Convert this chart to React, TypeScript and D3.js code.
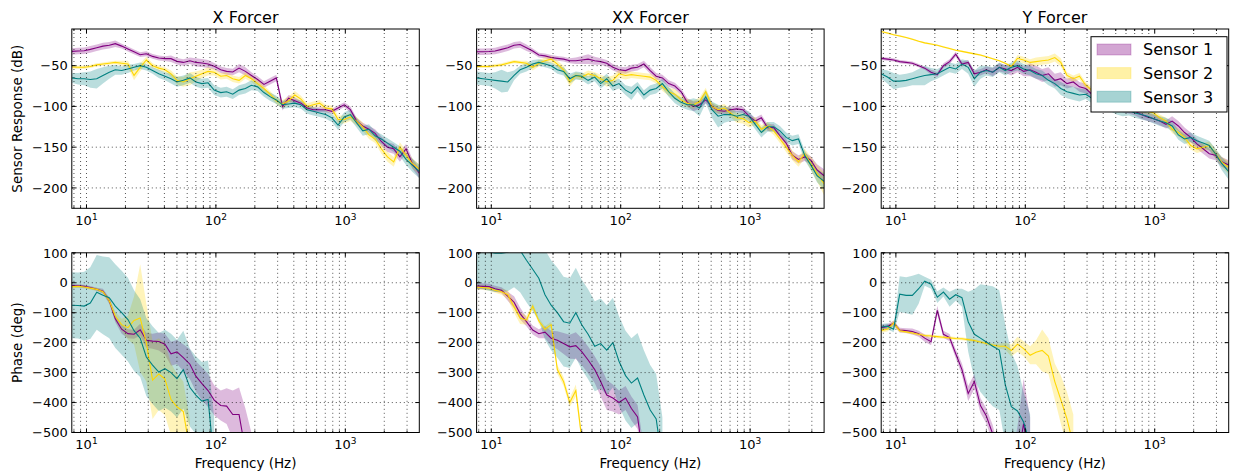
import React from "react";
import * as d3 from "d3";

// Shared frequency grid (Hz) for every response curve
const FREQ = [
  7.7, 8.6, 9.6, 10.7, 12, 13.4, 15, 16.7, 18.7, 20.9, 23.3, 26, 29, 32.4, 36.2, 40.4, 45, 50, 56, 63,
  70, 78, 87, 97, 109, 121, 135, 151, 169, 188, 210, 235, 262, 293, 327, 365, 407, 454, 507, 566,
  632, 705, 787, 879, 981, 1095, 1222, 1364, 1523, 1700, 1898, 2118, 2365, 2640, 2947, 3290, 3730,
];

const SENSORS = ["Sensor 1", "Sensor 2", "Sensor 3"];
const SENSOR_COLORS = ["#800080", "#ffd700", "#008080"];
const FORCERS = ["X Forcer", "XX Forcer", "Y Forcer"];
const MAG_TICKS = [-50, -100, -150, -200];
const PHASE_TICKS = [100, 0, -100, -200, -300, -400, -500];
const MAG_DOMAIN: [number, number] = [-225, -5];
const PHASE_DOMAIN: [number, number] = [-500, 100];
const FREQ_DOMAIN: [number, number] = [7.7, 3730];
const FREQ_MAJOR = [10, 100, 1000];

// ---- Magnitude (dB): mean and spread per sensor ----
const X_MAG_S1 = [-32.5, -32, -31.6, -30, -28, -26, -25, -23, -26, -29.6, -33, -36.5, -35.3, -38.6, -40.6, -41.4, -41.4, -44.7, -46, -44, -46, -46.7, -48, -50.8, -55, -57, -57.8, -53, -57, -62, -67, -73, -69, -65, -100, -90, -93, -96, -102, -104, -104, -104, -106, -102, -98, -104, -118, -124, -128, -133, -143, -150, -152, -162, -152, -170, -182];
const X_MAG_S1_SD = [4, 4, 4, 4, 4, 4, 4, 4, 3, 3, 3, 3, 3, 3, 3, 3, 4, 4, 4, 4, 5, 5, 5, 4, 4, 4, 4, 5, 5, 4, 4, 4, 4, 4, 5, 4, 4, 3, 3, 3, 3, 3, 3, 3, 3, 4, 4, 4, 4, 5, 6, 6, 6, 6, 6, 6, 6];
const X_MAG_S2 = [-51.6, -52, -52, -51, -49, -48, -47, -46, -47, -48, -62, -52, -43, -50, -53, -55, -60, -68, -70, -66, -63, -60, -57, -58, -63, -62, -66, -68, -62, -66, -72, -78, -85, -93, -97, -93, -86, -91, -100, -98, -96, -102, -103, -116, -116, -113, -118, -125, -135, -140, -152, -162, -168, -150, -160, -170, -177];
const X_MAG_S2_SD = [2, 2, 2, 2, 2, 2, 2, 2, 3, 4, 6, 5, 4, 3, 3, 3, 4, 5, 6, 8, 6, 5, 5, 4, 4, 4, 4, 4, 4, 4, 4, 4, 4, 4, 5, 5, 5, 4, 4, 4, 4, 4, 4, 5, 5, 5, 5, 5, 5, 5, 6, 6, 6, 6, 6, 6, 6];
const X_MAG_S3 = [-65, -66, -66, -67, -66, -62, -58, -55, -56, -54, -52, -50, -52, -56, -60, -63, -66, -70, -68, -65, -70, -72, -71, -80, -83, -82, -85, -80, -78, -74, -76, -83, -88, -92, -98, -97, -96, -98, -104, -106, -108, -110, -114, -123, -113, -110, -120, -130, -128, -136, -140, -145, -150, -155, -165, -172, -180];
const X_MAG_S3_SD = [6, 7, 8, 10, 12, 10, 8, 6, 5, 5, 4, 4, 4, 4, 5, 5, 6, 6, 6, 6, 6, 6, 6, 6, 6, 6, 6, 6, 6, 6, 5, 5, 5, 5, 5, 5, 5, 5, 5, 5, 5, 5, 5, 6, 6, 6, 6, 6, 6, 6, 6, 6, 6, 6, 7, 8, 8];

const XX_MAG_S1 = [-33, -33, -32.6, -32, -30, -28, -25, -24, -28, -32, -37, -38, -40, -41, -42, -44, -44, -43, -42, -44, -45, -47, -52, -55, -56, -53, -52, -48, -56, -63, -65, -72, -75, -82, -95, -100, -98, -92, -100, -105, -106, -104, -103, -104, -112, -118, -114, -126, -126, -136, -145, -160, -165, -162, -166, -178, -185];
const XX_MAG_S1_SD = [4, 4, 4, 4, 4, 4, 4, 4, 4, 3, 3, 3, 3, 3, 3, 3, 4, 5, 6, 5, 4, 4, 4, 4, 4, 4, 4, 4, 4, 4, 4, 4, 4, 4, 5, 6, 5, 4, 4, 4, 4, 4, 4, 4, 4, 4, 4, 4, 4, 4, 5, 5, 5, 5, 5, 7, 8];
const XX_MAG_S2 = [-51, -51, -51, -50, -49, -47, -45, -46, -47, -52, -47, -44, -42, -48, -55, -70, -62, -64, -60, -62, -66, -70, -68, -60, -62, -61, -62, -63, -64, -68, -76, -82, -85, -92, -96, -98, -94, -82, -100, -104, -102, -108, -114, -115, -120, -118, -128, -124, -130, -140, -150, -160, -168, -158, -170, -182, -195];
const XX_MAG_S2_SD = [2, 2, 2, 2, 2, 2, 2, 2, 3, 4, 4, 4, 4, 4, 5, 6, 4, 4, 4, 4, 5, 6, 6, 5, 5, 4, 4, 4, 4, 4, 5, 5, 6, 6, 5, 5, 5, 5, 5, 5, 5, 5, 6, 6, 6, 5, 5, 5, 5, 5, 6, 6, 6, 6, 8, 10, 14];
const XX_MAG_S3 = [-65, -66, -67, -68, -69, -70, -62, -55, -52, -48, -46, -48, -50, -55, -57, -66, -62, -63, -68, -64, -72, -66, -75, -72, -80, -84, -76, -86, -80, -78, -72, -82, -90, -95, -98, -98, -102, -88, -104, -112, -110, -110, -112, -110, -112, -122, -132, -125, -125, -130, -138, -142, -140, -160, -172, -185, -192];
const XX_MAG_S3_SD = [8, 8, 8, 10, 14, 12, 6, 5, 5, 5, 4, 4, 4, 5, 5, 6, 5, 5, 5, 5, 6, 6, 6, 6, 6, 8, 6, 6, 6, 6, 6, 6, 6, 6, 6, 8, 10, 8, 10, 14, 10, 8, 6, 6, 6, 6, 6, 6, 6, 6, 6, 6, 6, 6, 6, 8, 10];

const Y_MAG_S1 = [-41, -42, -43, -45, -46, -47, -50, -53, -58, -61, -50, -45, -36, -48, -46, -60, -58, -55, -58, -52, -54, -56, -52, -57, -55, -58, -62, -60, -68, -66, -72, -70, -76, -78, -85, -90, -95, -98, -100, -102, -104, -106, -110, -113, -115, -118, -122, -118, -124, -132, -138, -146, -152, -158, -160, -168, -172];
const Y_MAG_S1_SD = [2, 2, 2, 2, 2, 2, 2, 2, 3, 3, 3, 3, 3, 3, 3, 4, 4, 4, 5, 5, 5, 6, 6, 6, 8, 8, 8, 8, 8, 8, 6, 6, 6, 6, 6, 6, 5, 5, 5, 5, 5, 5, 5, 5, 5, 5, 5, 6, 6, 6, 6, 6, 6, 6, 6, 6, 6];
const Y_MAG_S2 = [-8, -10, -12, -13.5, -15.5, -17.5, -20, -22, -23.5, -25, -27, -29, -31, -32.5, -34, -35.5, -37, -39, -41.5, -44, -47, -51, -41, -43, -46, -45, -44, -43, -40, -46, -62, -66, -63, -74, -80, -84, -88, -92, -94, -96, -99, -102, -104, -106, -108, -114, -118, -128, -132, -138, -148, -152, -150, -148, -158, -168, -175];
const Y_MAG_S2_SD = [1, 1, 1, 1, 1, 1, 1, 1, 1, 1, 1, 1, 1, 1, 1, 1, 1, 1, 1, 1, 1, 2, 4, 4, 4, 5, 5, 5, 5, 5, 4, 4, 4, 4, 4, 4, 4, 4, 4, 4, 4, 4, 4, 4, 4, 4, 4, 5, 5, 5, 5, 5, 5, 5, 6, 6, 8];
const Y_MAG_S3 = [-60, -64, -69, -69, -68, -66, -64, -62, -61, -60, -56, -52, -54, -48, -52, -66, -58, -56, -58, -52, -56, -52, -50, -54, -56, -60, -62, -68, -72, -78, -82, -84, -86, -85, -90, -94, -98, -100, -102, -104, -105, -108, -110, -112, -115, -118, -120, -124, -135, -140, -138, -142, -145, -148, -158, -170, -180];
const Y_MAG_S3_SD = [6, 8, 10, 8, 8, 8, 10, 12, 8, 6, 6, 6, 6, 6, 8, 10, 8, 6, 6, 6, 6, 6, 6, 6, 6, 6, 6, 6, 6, 8, 8, 8, 8, 6, 6, 6, 6, 6, 8, 8, 6, 6, 6, 6, 6, 6, 6, 6, 6, 6, 6, 6, 6, 6, 6, 8, 10];

// ---- Phase (deg): mean and spread per sensor (curves end once they leave the axes) ----
const X_PH_S1 = [-9, -10, -12, -16, -22, -28, -60, -120, -155, -170, -172, -157, -192, -195, -196, -205, -237, -231, -250, -272, -312, -337, -360, -392, -410, -412, -440, -440, -560, -650];
const X_PH_S1_SD = [5, 5, 5, 5, 5, 8, 10, 12, 15, 15, 15, 20, 25, 25, 30, 35, 40, 40, 45, 50, 50, 55, 55, 50, 50, 60, 80, 90, 140, 150];
const X_PH_S2 = [-13, -12, -14, -18, -22, -30, -60, -112, -140, -150, -126, -118, -200, -325, -305, -322, -390, -414, -430, -560];
const X_PH_S2_SD = [5, 5, 5, 5, 5, 6, 10, 15, 20, 40, 80, 180, 130, 130, 120, 120, 120, 110, 100, 100];
const X_PH_S3 = [-75, -76, -78, -68, -32, -42, -50, -78, -100, -123, -160, -185, -248, -275, -298, -287, -300, -320, -290, -350, -375, -395, -390, -600];
const X_PH_S3_SD = [110, 110, 115, 120, 125, 130, 135, 140, 140, 140, 135, 130, 130, 130, 130, 130, 130, 130, 130, 130, 130, 130, 130, 150];

const XX_PH_S1 = [-11, -12, -13, -20, -25, -45, -65, -103, -130, -158, -170, -165, -185, -192, -203, -214, -210, -230, -258, -290, -330, -375, -385, -400, -385, -420, -448, -600];
const XX_PH_S1_SD = [10, 10, 10, 10, 10, 15, 20, 20, 15, 15, 15, 20, 25, 30, 35, 40, 45, 45, 45, 45, 50, 50, 45, 40, 40, 40, 40, 50];
const XX_PH_S2 = [-15, -16, -18, -25, -30, -40, -80, -118, -125, -78, -128, -155, -140, -290, -330, -400, -360, -520, -700];
const XX_PH_S2_SD = [8, 8, 8, 8, 10, 15, 20, 20, 15, 10, 10, 10, 10, 15, 15, 15, 20, 20, 20];
const XX_PH_S3 = [110, 108, 103, 99, 99, 102, 115, 108, 75, 45, 15, -40, -75, -100, -130, -135, -100, -140, -172, -212, -203, -225, -200, -262, -310, -335, -318, -375, -425, -455, -600];
const XX_PH_S3_SD = [130, 130, 130, 130, 130, 130, 130, 140, 140, 140, 140, 150, 150, 150, 150, 150, 150, 150, 150, 150, 150, 150, 150, 150, 150, 150, 150, 150, 150, 150, 150];

const Y_PH_S1 = [-150, -146, -135, -158, -160, -163, -170, -185, -197, -92, -172, -183, -237, -290, -370, -330, -410, -445, -505, -600, -650, -650, -600, -470, -600];
const Y_PH_S1_SD = [8, 8, 8, 8, 8, 10, 10, 12, 12, 15, 12, 12, 15, 20, 25, 25, 25, 25, 30, 30, 30, 60, 120, 150, 150];
const Y_PH_S2 = [-159, -155, -135, -160, -164, -168, -172, -176, -178, -180, -182, -184, -186, -187, -190, -193, -198, -203, -208, -212, -212, -226, -205, -220, -242, -232, -226, -245, -330, -390, -455, -540];
const Y_PH_S2_SD = [8, 8, 10, 6, 5, 5, 5, 5, 5, 5, 5, 5, 5, 5, 5, 5, 5, 5, 5, 8, 12, 20, 25, 25, 30, 40, 70, 60, 60, 80, 90, 100];
const Y_PH_S3 = [-148, -145, -155, -38, -42, -42, -20, 5, -5, -48, -31, -55, -40, -50, -130, -172, -185, -198, -212, -225, -340, -414, -428, -465, -540];
const Y_PH_S3_SD = [10, 10, 10, 60, 60, 65, 50, 15, 15, 20, 15, 25, 20, 30, 100, 150, 180, 190, 200, 200, 200, 180, 150, 100, 100];

type Series = { mean: number[]; sd: number[] };
const s = (mean: number[], sd: number[]): Series => ({ mean, sd });

const MAG_SERIES: Series[][] = [
  [s(X_MAG_S1, X_MAG_S1_SD), s(X_MAG_S2, X_MAG_S2_SD), s(X_MAG_S3, X_MAG_S3_SD)],
  [s(XX_MAG_S1, XX_MAG_S1_SD), s(XX_MAG_S2, XX_MAG_S2_SD), s(XX_MAG_S3, XX_MAG_S3_SD)],
  [s(Y_MAG_S1, Y_MAG_S1_SD), s(Y_MAG_S2, Y_MAG_S2_SD), s(Y_MAG_S3, Y_MAG_S3_SD)],
];
const PHASE_SERIES: Series[][] = [
  [s(X_PH_S1, X_PH_S1_SD), s(X_PH_S2, X_PH_S2_SD), s(X_PH_S3, X_PH_S3_SD)],
  [s(XX_PH_S1, XX_PH_S1_SD), s(XX_PH_S2, XX_PH_S2_SD), s(XX_PH_S3, XX_PH_S3_SD)],
  [s(Y_PH_S1, Y_PH_S1_SD), s(Y_PH_S2, Y_PH_S2_SD), s(Y_PH_S3, Y_PH_S3_SD)],
];

// ---- Layout ----
const WIDTH = 1233;
const HEIGHT = 474;
const COL_LEFT = [71.8, 476.6, 881.2];
const PANEL_W = 347.5;
const ROW_TOP = [29, 252.8];
const PANEL_H = [179.3, 179.7];
const FONT = "'DejaVu Sans', Verdana, sans-serif";
const FILL_OPACITY = 0.27;

const minorFreqs: number[] = [];
for (const d of [1, 10, 100, 1000]) {
  for (let k = 2; k <= 9; k++) {
    const v = d * k;
    if (v >= FREQ_DOMAIN[0] && v <= FREQ_DOMAIN[1]) minorFreqs.push(v);
  }
}

const fmtTick = (v: number) => (v < 0 ? "\u2212" + Math.abs(v) : String(v));

type PanelProps = {
  id: string;
  left: number;
  top: number;
  height: number;
  yDomain: [number, number];
  yTicks: number[];
  series: Series[];
  title?: string;
  yLabel?: string;
  xLabel?: string;
};

function Panel({ id, left, top, height, yDomain, yTicks, series, title, yLabel, xLabel }: PanelProps) {
  const width = PANEL_W;
  const x = d3.scaleLog().domain(FREQ_DOMAIN).range([left, left + width]);
  const y = d3.scaleLinear().domain(yDomain).range([top + height, top]);
  const bottom = top + height;
  const right = left + width;

  const bands = series.map(({ mean, sd }) => {
    const n = Math.min(mean.length, sd.length, FREQ.length);
    const idx = d3.range(n);
    const area = d3
      .area<number>()
      .x((i) => x(FREQ[i]))
      .y0((i) => y(mean[i] - sd[i]))
      .y1((i) => y(mean[i] + sd[i]));
    const line = d3
      .line<number>()
      .x((i) => x(FREQ[i]))
      .y((i) => y(mean[i]));
    return { area: area(idx) || "", line: line(idx) || "" };
  });

  const gridX = [...FREQ_MAJOR, ...minorFreqs];

  return (
    <g>
      <defs>
        <clipPath id={id}>
          <rect x={left} y={top} width={width} height={height} />
        </clipPath>
      </defs>
      <rect x={left} y={top} width={width} height={height} fill="#fff" />
      <g clipPath={`url(#${id})`}>
        {bands.map((b, i) => (
          <path key={"a" + i} d={b.area} fill={SENSOR_COLORS[i]} fillOpacity={FILL_OPACITY} stroke="none" />
        ))}
        {bands.map((b, i) => (
          <path key={"l" + i} d={b.line} fill="none" stroke={SENSOR_COLORS[i]} strokeWidth={1.1} />
        ))}
      </g>
      {/* dotted grid */}
      <g stroke="#000" strokeWidth={0.8} strokeDasharray="1 3" strokeOpacity={0.85} fill="none">
        {gridX.map((f) => (
          <line key={"gx" + f} x1={x(f)} x2={x(f)} y1={top} y2={bottom} />
        ))}
        {yTicks
          .filter((v) => v > yDomain[0] && v < yDomain[1])
          .map((v) => (
            <line key={"gy" + v} x1={left} x2={right} y1={y(v)} y2={y(v)} />
          ))}
      </g>
      {/* inward ticks on all four sides */}
      <g stroke="#000" strokeWidth={1}>
        {FREQ_MAJOR.map((f) => (
          <g key={"tM" + f}>
            <line x1={x(f)} x2={x(f)} y1={bottom} y2={bottom - 4} />
            <line x1={x(f)} x2={x(f)} y1={top} y2={top + 4} />
          </g>
        ))}
        {minorFreqs.map((f) => (
          <g key={"tm" + f}>
            <line x1={x(f)} x2={x(f)} y1={bottom} y2={bottom - 2} />
            <line x1={x(f)} x2={x(f)} y1={top} y2={top + 2} />
          </g>
        ))}
        {yTicks.map((v) => (
          <g key={"ty" + v}>
            <line x1={left} x2={left + 4} y1={y(v)} y2={y(v)} />
            <line x1={right} x2={right - 4} y1={y(v)} y2={y(v)} />
          </g>
        ))}
      </g>
      <rect x={left} y={top} width={width} height={height} fill="none" stroke="#000" strokeWidth={1} />
      {/* tick labels */}
      <g fontFamily={FONT} fontSize={13} fill="#000">
        {FREQ_MAJOR.map((f) => (
          <text key={"xl" + f} x={x(f)} y={bottom + 16.7} textAnchor="middle">
            10
            <tspan dy={-5.5} fontSize={9}>
              {Math.round(Math.log10(f))}
            </tspan>
          </text>
        ))}
        {yTicks.map((v) => (
          <text key={"yl" + v} x={left - 4} y={y(v) + 4.7} textAnchor="end">
            {fmtTick(v)}
          </text>
        ))}
      </g>
      {title && (
        <text x={left + width / 2} y={top - 6} textAnchor="middle" fontFamily={FONT} fontSize={16}>
          {title}
        </text>
      )}
      {yLabel && (
        <text
          transform={`translate(22, ${top + height / 2}) rotate(-90)`}
          textAnchor="middle"
          fontFamily={FONT}
          fontSize={13.5}
        >
          {yLabel}
        </text>
      )}
      {xLabel && (
        <text x={left + width / 2} y={bottom + 35} textAnchor="middle" fontFamily={FONT} fontSize={13.5}>
          {xLabel}
        </text>
      )}
    </g>
  );
}

function Legend() {
  const bx = 1091;
  const by = 36.7;
  const rows = [49.5, 73.1, 96.7];
  return (
    <g>
      <rect x={bx} y={by} width={136} height={75.3} fill="#fff" stroke="#000" strokeWidth={1} />
      {SENSORS.map((name, i) => (
        <g key={name}>
          <rect
            x={bx + 6}
            y={rows[i] - 5.5}
            width={34}
            height={11}
            fill={SENSOR_COLORS[i]}
            fillOpacity={0.35}
            stroke={SENSOR_COLORS[i]}
            strokeOpacity={0.25}
            strokeWidth={1}
          />
          <text x={bx + 52} y={rows[i] + 5.8} fontFamily={FONT} fontSize={16}>
            {name}
          </text>
        </g>
      ))}
    </g>
  );
}

export default function App() {
  return (
    <svg
      width={WIDTH}
      height={HEIGHT}
      viewBox={`0 0 ${WIDTH} ${HEIGHT}`}
      style={{ position: "absolute", left: 0, top: 0, background: "#fff" }}
    >
      <rect x={0} y={0} width={WIDTH} height={HEIGHT} fill="#fff" />
      {FORCERS.map((name, c) => (
        <Panel
          key={"mag" + c}
          id={"clip-mag-" + c}
          left={COL_LEFT[c]}
          top={ROW_TOP[0]}
          height={PANEL_H[0]}
          yDomain={MAG_DOMAIN}
          yTicks={MAG_TICKS}
          series={MAG_SERIES[c]}
          title={name}
          yLabel={c === 0 ? "Sensor Response (dB)" : undefined}
        />
      ))}
      {FORCERS.map((name, c) => (
        <Panel
          key={"ph" + c}
          id={"clip-ph-" + c}
          left={COL_LEFT[c]}
          top={ROW_TOP[1]}
          height={PANEL_H[1]}
          yDomain={PHASE_DOMAIN}
          yTicks={PHASE_TICKS}
          series={PHASE_SERIES[c]}
          yLabel={c === 0 ? "Phase (deg)" : undefined}
          xLabel="Frequency (Hz)"
        />
      ))}
      <Legend />
    </svg>
  );
}
